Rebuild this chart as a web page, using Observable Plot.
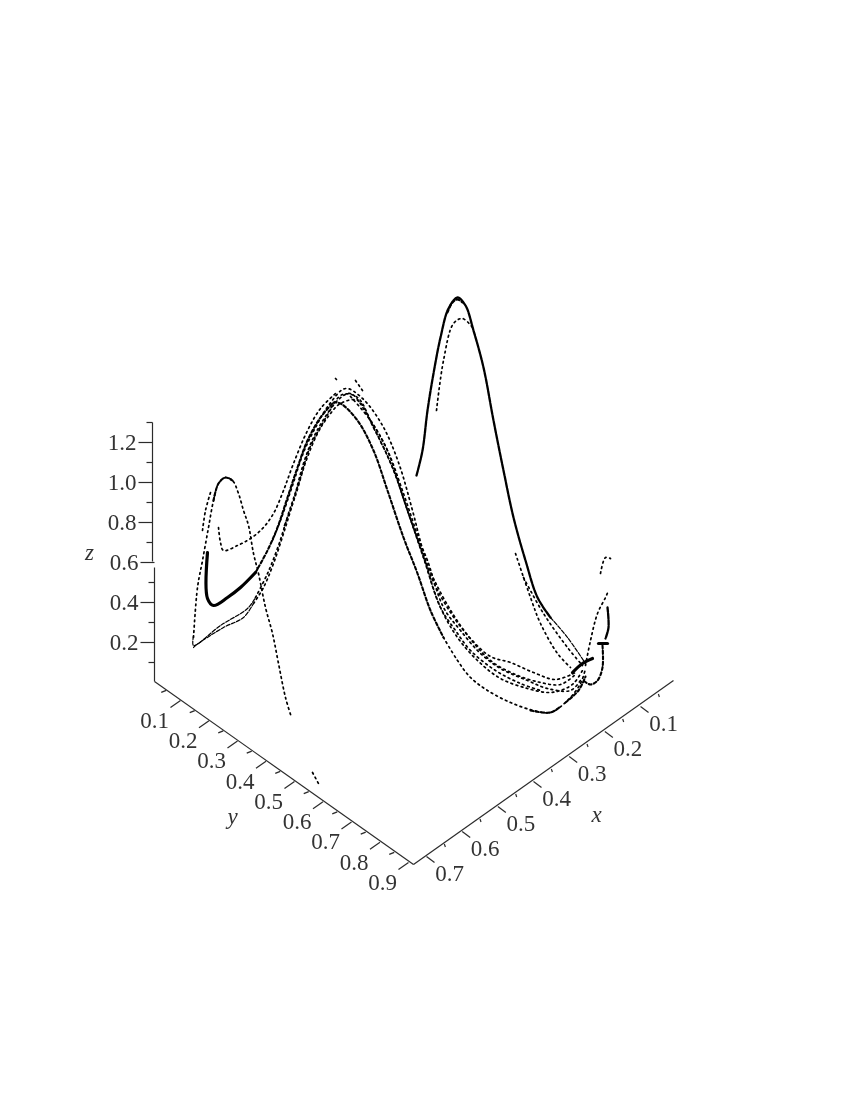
<!DOCTYPE html>
<html>
<head>
<meta charset="utf-8">
<script src="https://cdn.jsdelivr.net/npm/d3@7"></script>
<script src="https://cdn.jsdelivr.net/npm/@observablehq/plot@0.6"></script>
<style>
html,body{margin:0;padding:0;background:#fff}
svg{display:block;filter:blur(0.4px)}
</style>
</head>
<body>
<div id="chart"></div>
<script>
// Axis tick values
const xMajor = [0.1,0.2,0.3,0.4,0.5,0.6,0.7];
const xMinor = [0.05,0.15,0.25,0.35,0.45,0.55,0.65];
const yMajor = [0.1,0.2,0.3,0.4,0.5,0.6,0.7,0.8,0.9];
const yMinor = [0.05,0.15,0.25,0.35,0.45,0.55,0.65,0.75,0.85];
const zMajor = [0.2,0.4,0.6,0.8,1.0,1.2];
const zMinor = [0.1,0.3,0.5,0.7,0.9,1.1,1.3];

const bigThickLoop = [[2.07,5.52],[2.07,5.98],[2.13,6.05],[2.27,5.97],[2.40,5.87],[2.55,5.72]];
const mainAscent = [[2.55,5.72],[2.67,5.50],[2.77,5.27],[2.87,4.97],[2.97,4.67],[3.07,4.40],[3.20,4.17],[3.33,4.02]];
const mainDescent = [[3.33,4.02],[3.40,4.03],[3.57,4.20],[3.73,4.50],[3.87,4.90],[4.03,5.37],[4.17,5.73],[4.30,6.10],[4.43,6.37]];
const mainBottom = [[4.43,6.37],[4.57,6.60],[4.70,6.77],[4.87,6.90],[5.10,7.02],[5.33,7.10],[5.50,7.12],[5.67,7.00],[5.80,6.83],[5.85,6.68]];
const bottomDash = [[5.30,7.10],[5.50,7.12],[5.60,7.06]];
const leftPeak = [[1.93,6.37],[1.97,5.87],[2.02,5.60],[2.08,5.27],[2.13,5.00],[2.18,4.83],[2.25,4.77],[2.32,4.80],[2.38,4.93],[2.43,5.10],[2.48,5.25],[2.53,5.53],[2.58,5.73],[2.65,6.07],[2.72,6.33],[2.78,6.63],[2.85,6.97],[2.91,7.17]];
const leftPeakTop = [[2.13,5.00],[2.18,4.83],[2.25,4.77],[2.32,4.80]];
const leftPeakSide = [[2.02,5.30],[2.05,5.10],[2.10,4.92]];
const strayLow = [[3.12,7.72],[3.18,7.83]];
const triangleA = [[1.93,6.47],[1.95,6.45],[2.23,6.27],[2.43,6.17],[2.53,6.03]];
const triangleB = [[1.93,6.35],[1.93,6.45],[2.20,6.25],[2.47,6.08],[2.55,5.97]];
const lowerA = [[2.53,6.03],[2.63,5.87],[2.73,5.63],[2.83,5.33],[2.93,5.00],[3.03,4.63],[3.13,4.37],[3.27,4.13],[3.42,3.94],[3.57,3.97],[3.73,4.27],[3.92,4.67],[4.08,5.13],[4.23,5.57],[4.40,6.07],[4.57,6.37],[4.77,6.60],[5.00,6.78],[5.27,6.88],[5.47,6.92],[5.60,6.90],[5.73,6.83],[5.83,6.68]];
const lowerB = [[2.55,5.97],[2.67,5.73],[2.78,5.45],[2.88,5.13],[2.99,4.80],[3.09,4.48],[3.22,4.23],[3.37,4.00],[3.50,3.93],[3.70,4.20],[3.87,4.50],[4.03,4.93],[4.20,5.43],[4.27,5.60],[4.43,6.07],[4.60,6.30],[4.80,6.53],[5.00,6.68],[5.27,6.80],[5.47,6.88],[5.70,6.90],[5.80,6.80]];
const innerLoop = [[2.18,5.27],[2.20,5.42],[2.23,5.50],[2.37,5.45],[2.50,5.38],[2.62,5.28],[2.73,5.13],[2.83,4.90],[2.93,4.63],[3.07,4.30],[3.20,4.08],[3.35,3.93]];
const humpOuter = [[2.72,5.40],[2.80,5.20],[2.92,4.85],[3.03,4.52],[3.15,4.27],[3.28,4.05],[3.45,3.88],[3.62,3.98],[3.82,4.25],[3.98,4.62],[4.12,5.10],[4.21,5.45],[4.30,5.75],[4.50,6.12],[4.70,6.38],[4.90,6.56],[5.10,6.62],[5.33,6.72],[5.55,6.79],[5.75,6.72]];
const humpMiddle = [[2.84,5.25],[2.95,4.95],[3.05,4.62],[3.17,4.33],[3.27,4.17],[3.40,4.03],[3.57,4.00],[3.73,4.27],[3.92,4.67],[4.08,5.13],[4.23,5.57],[4.40,6.07],[4.55,6.30],[4.70,6.50],[4.95,6.70],[5.20,6.83],[5.40,6.90]];
const humpEdge = [[3.50,3.96],[3.70,4.20],[3.87,4.50],[4.03,4.98],[4.17,5.38],[4.33,5.78],[4.60,6.25],[4.90,6.60],[5.15,6.74],[5.40,6.82],[5.60,6.84],[5.75,6.74]];
const strayTop = [[3.55,3.80],[3.62,3.90]];
const strayPeak = [[3.35,3.78],[3.36,3.79]];
const rightPeak = [[4.16,4.75],[4.22,4.50],[4.27,4.10],[4.33,3.73],[4.40,3.37],[4.48,3.08],[4.57,2.97],[4.65,3.05],[4.73,3.30],[4.83,3.67],[4.93,4.20],[5.03,4.70],[5.13,5.17],[5.25,5.60],[5.37,5.97],[5.50,6.17]];
const rightPeakCap = [[4.47,3.12],[4.52,3.02],[4.57,2.99],[4.62,3.02]];
const rightLower = [[5.50,6.17],[5.67,6.37],[5.85,6.63]];
const rightPeakInner = [[4.36,4.10],[4.43,3.60],[4.53,3.23],[4.62,3.18],[4.72,3.27]];
const rightDescentA = [[5.15,5.53],[5.30,5.97],[5.40,6.23],[5.57,6.53],[5.70,6.67]];
const rightDescentB = [[5.23,5.77],[5.43,6.13],[5.67,6.47],[5.82,6.65]];
const rightArm = [[5.85,6.65],[5.90,6.40],[5.97,6.13],[6.05,5.97],[6.08,5.90]];
const rightArmThin = [[6.07,6.07],[6.08,6.27],[6.05,6.38]];
const rightArmThick = [[6.02,6.45],[6.02,6.67],[5.97,6.80],[5.90,6.84],[5.83,6.80]];
const rightStray = [[6.00,5.73],[6.05,5.57],[6.10,5.58]];
const knotA = [[5.72,6.72],[5.82,6.63],[5.92,6.58]];
const knotB = [[5.98,6.43],[6.07,6.43]];
const knotC = [[5.65,7.02],[5.78,6.90],[5.85,6.76]];

const thickStrands = [bigThickLoop, knotA, knotB];
const denseStrands = [mainAscent, mainDescent, rightArmThick, rightPeakCap, bottomDash, knotC, leftPeakTop];
const blackStrands = [rightPeak, rightArmThin];
const thinStrands = [triangleA, triangleB, rightLower];
const dottedStrands = [leftPeak, leftPeakSide, mainBottom, lowerA, lowerB, innerLoop, humpOuter, humpMiddle, humpEdge, rightPeakInner, rightDescentA, rightDescentB, rightArm, rightStray, strayLow, strayTop, strayPeak];

// Axis geometry, across and down on the picture plane
const onX = x => [(675.7 - 356.7 * x) / 100, (681 + 250 * x) / 100];
const onY = y => [(151.5 + 285 * y) / 100, (679.75 + 202.5 * y) / 100];
const onZ = z => [(z > 0.6 ? 152 : 154) / 100, (682 - 200 * z) / 100];

const tick = (point, dx, dy) => v => {
  const [a, d] = point(v);
  return {x1: a, y1: d, x2: a + dx / 100, y2: d + dy / 100};
};
const label = (point, dx, dy) => v => {
  const [a, d] = point(v);
  return {a: a + dx / 100, d: d + dy / 100, t: v.toFixed(1)};
};

const axisLines = [
  {x1: 1.54, y1: 6.81, x2: 4.13, y2: 8.64},
  {x1: 4.13, y1: 8.64, x2: 6.73, y2: 6.80},
  {x1: 1.54, y1: 6.81, x2: 1.54, y2: 5.67},
  {x1: 1.52, y1: 5.61, x2: 1.52, y2: 4.22}
];
const axisInk = "#2b2b2b";
const serif = "Liberation Serif";

const links = (rows) => Plot.link(rows, {x1: "x1", y1: "y1", x2: "x2", y2: "y2", stroke: axisInk, strokeWidth: 1.2});
const lineMark = (s, opts) => Plot.line(s, {x: d => d[0], y: d => d[1], curve: "catmull-rom", stroke: "#000", ...opts});

const chart = Plot.plot({
  width: 850,
  height: 1100,
  margin: 0,
  style: {background: "#fff"},
  x: {domain: [0, 8.5], axis: null},
  y: {domain: [11, 0], axis: null},
  marks: [
    links(axisLines),
    links(xMajor.map(tick(onX, 8, 6))),
    links(xMinor.map(tick(onX, 1, 3))),
    links(yMajor.map(tick(onY, -10, 7))),
    links(yMinor.map(tick(onY, -5, 2))),
    links(zMajor.map(tick(onZ, -14, 0))),
    links(zMinor.map(tick(onZ, -6, 0))),
    Plot.text(xMajor.map(label(onX, 23, 17)), {x: "a", y: "d", text: "t", fontFamily: serif, fontSize: 23, fill: "#333"}),
    Plot.text(yMajor.map(label(onY, -26, 20)), {x: "a", y: "d", text: "t", fontFamily: serif, fontSize: 23, fill: "#333"}),
    Plot.text(zMajor.map(label(onZ, -16, 0)), {x: "a", y: "d", text: "t", textAnchor: "end", fontFamily: serif, fontSize: 23, fill: "#333"}),
    Plot.text([{a: 5.96, d: 8.14, t: "x"}, {a: 2.32, d: 8.16, t: "y"}, {a: 0.89, d: 5.52, t: "z"}], {x: "a", y: "d", text: "t", fontFamily: serif, fontStyle: "italic", fontSize: 23, fill: "#333"}),
    ...dottedStrands.map(s => lineMark(s, {strokeWidth: 1.7, strokeDasharray: "1.7 3.6"})),
    ...thinStrands.map(s => lineMark(s, {strokeWidth: 1.2, strokeDasharray: "4 1.6"})),
    ...denseStrands.map(s => lineMark(s, {strokeWidth: 2.1, strokeDasharray: "3 2.4"})),
    ...blackStrands.map(s => lineMark(s, {strokeWidth: 2.3, strokeDasharray: "5 1.2"})),
    ...thickStrands.map(s => lineMark(s, {strokeWidth: 3.2}))
  ]
});
document.getElementById("chart").append(chart);
</script>
</body>
</html>
